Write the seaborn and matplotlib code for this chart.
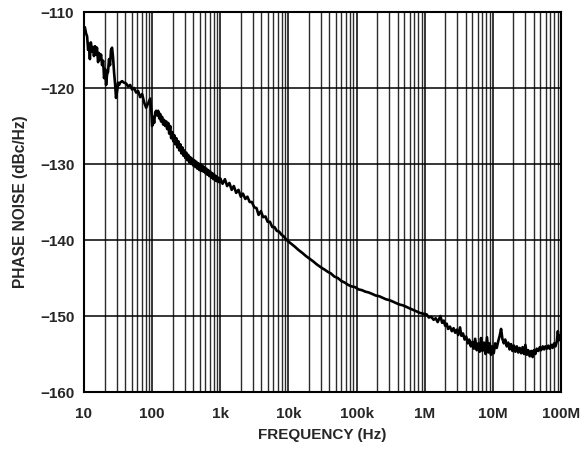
import numpy as np
import pandas as pd
import matplotlib
matplotlib.use("Agg")
import matplotlib.pyplot as plt
import matplotlib.ticker as mticker
import seaborn as sns

# ---- data (frequency in Hz, phase noise in dBc/Hz) ----
freq_low = [10, 10.3, 10.7, 11.1, 11.5, 11.8, 12.2, 12.6, 13.1, 13.6, 14.0, 14.5, 15.0, 15.5, 16.1, 16.6,
            17.2, 17.8, 18.4, 19.1, 19.7, 20.4, 21.1, 21.8, 22.5, 23.3, 24.1, 24.9, 25.8, 26.7, 27.6, 28.6,
            29.5, 30.6, 31.6, 32.7, 33.8, 36.2, 38.7, 41.5, 44.3, 47.5, 50.8, 54.4, 58.2, 62.3, 66.6, 71.3,
            76.3, 81.7, 87.4, 93.5, 97]
pn_low = [-112.1, -112.0, -112.8, -113.2, -115.0, -114.2, -116.2, -114.0, -115.2, -114.6, -115.8, -114.5, -115.6, -114.7, -116.6, -115.4,
          -116.2, -115.6, -117.0, -116.4, -118.7, -117.5, -119.6, -118.2, -117.9, -116.2, -117.0, -115.0, -114.7, -116.0, -117.9, -119.5,
          -121.3, -120.4, -119.3, -119.6, -119.3, -119.1, -119.3, -119.4, -119.8, -119.6, -120.2, -120.0, -120.6, -120.4, -121.2, -120.8,
          -121.9, -122.6, -122.0, -121.4, -122.8]

freq_mid = [100, 104, 107, 111, 114.5, 118, 122.6, 127, 131, 135, 140, 145, 150, 155, 161, 166, 172, 178, 184, 190,
            197, 204, 211, 218, 226, 234, 242, 250, 259, 268, 277, 287, 296, 306, 317, 328, 339, 351, 363, 375,
            388, 402, 415, 430, 445, 460, 476, 492, 509, 527, 545, 564, 583, 603, 624, 645, 667, 690, 714, 739,
            764, 790, 818, 846, 875, 905, 936, 968]
pn_mid = [-125.0, -123.8, -124.6, -123.2, -123.0, -123.6, -123.0, -124.0, -123.4, -124.4, -123.8, -124.8, -124.2, -125.0, -124.4, -125.4, -124.6, -126.0, -125.0, -126.6,
          -125.8, -127.0, -126.2, -127.4, -126.6, -127.8, -127.0, -128.2, -127.4, -128.6, -127.8, -128.9, -128.2, -129.2, -128.5, -129.5, -128.8, -129.8, -129.1, -130.0,
          -129.3, -130.2, -129.5, -130.4, -129.7, -130.6, -129.9, -130.8, -130.0, -130.9, -130.2, -131.0, -130.4, -131.2, -130.6, -131.4, -130.8, -131.6, -131.0, -131.8,
          -131.2, -132.0, -131.4, -132.2, -131.6, -132.3, -131.8, -132.4]

freq_dec3 = [1000, 1080, 1170, 1260, 1360, 1470, 1580, 1710, 1850, 2000, 2150, 2330, 2500, 2700, 2900, 3150,
             3400, 3650, 3950, 4250, 4600, 4950, 5350, 5800, 6250, 6750, 7300, 7900, 8500, 9200]
pn_dec3 = [-131.9, -132.6, -132.0, -132.9, -132.5, -133.4, -132.9, -133.8, -133.4, -134.3, -133.9, -134.6, -134.3, -135.0, -135.0, -135.7,
           -135.8, -136.7, -136.2, -137.0, -136.9, -137.6, -137.6, -138.3, -138.3, -138.8, -138.9, -139.3, -139.5, -139.9]

freq_smooth = [1e4, 1.1e4, 1.25e4, 1.4e4, 1.6e4, 1.8e4, 2e4, 2.3e4, 2.6e4, 3e4, 3.4e4, 3.8e4, 4.2e4, 4.7e4, 5.3e4, 6e4,
               6.7e4, 7.5e4, 8.4e4, 9.5e4, 1.07e5, 1.2e5, 1.35e5, 1.5e5, 1.7e5, 1.9e5, 2.15e5, 2.4e5, 2.7e5, 3e5, 3.4e5,
               3.8e5, 4.3e5, 4.8e5, 5.4e5, 6e5, 6.8e5, 7.6e5, 8.5e5, 9.5e5, 1.07e6, 1.15e6, 1.25e6, 1.35e6, 1.45e6,
               1.55e6, 1.62e6]
pn_smooth = [-140.2, -140.5, -140.9, -141.3, -141.7, -142.1, -142.4, -142.8, -143.2, -143.6, -143.9, -144.2, -144.4, -144.8, -145.0, -145.4,
             -145.6, -145.9, -146.1, -146.2, -146.5, -146.6, -146.8, -146.9, -147.1, -147.3, -147.4, -147.6, -147.8, -147.9, -148.1,
             -148.3, -148.5, -148.6, -148.8, -149.0, -149.2, -149.4, -149.6, -149.7, -149.8, -150.2, -150.1, -150.5, -150.3,
             -150.8, -150.4]

freq_high = [1.7e6, 1.8e6, 1.9e6, 2.0e6, 2.1e6, 2.2e6, 2.35e6, 2.5e6, 2.65e6, 2.8e6, 2.95e6, 3.1e6, 3.3e6, 3.45e6, 3.65e6,
             3.85e6, 4.05e6, 4.3e6, 4.5e6, 4.75e6, 5.0e6, 5.25e6, 5.5e6, 5.8e6, 6.1e6, 6.4e6, 6.7e6, 7.0e6, 7.4e6, 7.8e6,
             8.2e6, 8.6e6, 9.0e6, 9.4e6, 9.8e6, 10.3e6, 10.8e6, 11.4e6, 12.0e6, 12.6e6, 13.2e6, 13.8e6, 14.5e6, 15.2e6,
             16e6, 16.8e6, 17.6e6, 18.5e6, 19.4e6, 20.4e6, 21.4e6, 22.5e6, 23.6e6, 24.8e6, 26e6, 27.3e6, 28.7e6, 30e6,
             31.5e6, 33e6, 34.7e6, 36.5e6, 38.3e6, 40e6, 42e6, 44e6, 46.5e6, 49e6, 51e6, 54e6, 56.5e6, 59e6, 62e6,
             65e6, 68e6, 72e6, 75e6, 79e6, 83e6, 87e6, 90e6, 93e6, 96e6, 100e6]
pn_high = [-150.0, -150.9, -150.6, -151.3, -151.0, -151.7, -151.4, -152.0, -151.6, -152.2, -151.8, -152.5, -151.5, -152.6, -152.3,
           -153.1, -152.7, -153.6, -153.1, -154.0, -153.4, -154.3, -153.0, -154.5, -153.6, -154.7, -152.9, -154.6, -153.5, -155.0,
           -152.8, -154.8, -153.6, -155.1, -154.0, -154.9, -153.6, -154.2, -153.3, -152.6, -151.7, -153.0, -153.6, -153.1,
           -154.0, -153.5, -154.4, -153.7, -154.6, -153.9, -154.7, -154.0, -154.8, -154.2, -154.9, -154.1, -155.0, -153.8,
           -155.1, -154.5, -155.3, -154.6, -155.4, -154.5, -155.0, -154.3, -154.6, -154.1, -154.5, -154.0, -154.4, -154.0, -154.3,
           -153.9, -154.3, -153.8, -154.2, -153.6, -154.0, -153.3, -152.0, -153.2, -152.6, -153.0]

x_ticks = [10, 100, 1e3, 1e4, 1e5, 1e6, 1e7, 1e8]
x_tick_labels = ["10", "100", "1k", "10k", "100k", "1M", "10M", "100M"]
y_ticks = [-160, -150, -140, -130, -120, -110]
y_tick_labels = ["\u2212160", "\u2212150", "\u2212140", "\u2212130", "\u2212120", "\u2212110"]

sns.set_theme(style="white")
plt.rcParams["font.family"] = ["Liberation Sans", "DejaVu Sans"]
plt.rcParams["font.weight"] = "bold"

df = pd.DataFrame({
    "freq": freq_low + freq_mid + freq_dec3 + freq_smooth + freq_high,
    "pn": pn_low + pn_mid + pn_dec3 + pn_smooth + pn_high,
})

fig = plt.figure(figsize=(5.88, 4.5), dpi=100)
ax = fig.add_axes([84 / 588, 1 - 392 / 450, (561 - 84) / 588, (392 - 12) / 450])

sns.lineplot(data=df, x="freq", y="pn", ax=ax, color="black", linewidth=1.9,
             estimator=None, sort=False, zorder=3)

ax.set_xscale("log")
ax.set_xlim(10, 1e8)
ax.set_ylim(-160, -110)
ax.set_xticks(x_ticks)
ax.set_xticklabels(x_tick_labels)
ax.xaxis.set_minor_locator(mticker.LogLocator(base=10, subs=np.arange(2, 10), numticks=100))
ax.xaxis.set_minor_formatter(mticker.NullFormatter())
ax.set_yticks(y_ticks)
ax.set_yticklabels(y_tick_labels)

ax.grid(which="major", axis="both", color="black", linewidth=1.1)
ax.grid(which="minor", axis="x", color="#2b2b2b", linewidth=1.0)
ax.set_axisbelow(True)
for s in ax.spines.values():
    s.set_color("black")
    s.set_linewidth(1.5)

ax.tick_params(axis="both", which="both", length=0)
ax.tick_params(axis="x", pad=11, labelsize=11)
ax.tick_params(axis="y", pad=7, labelsize=11)
for lab in ax.get_xticklabels() + ax.get_yticklabels():
    lab.set_fontweight("bold")

ax.set_xlabel("FREQUENCY (Hz)", fontsize=11, fontweight="bold")
ax.set_ylabel("PHASE NOISE (dBc/Hz)", fontsize=11.2, fontweight="bold")
ax.xaxis.set_label_coords(0.5, (392 - 435) / 380)
ax.xaxis.label.set_va("center")
ax.yaxis.set_label_coords((21 - 84) / 477, 0.5)
ax.yaxis.label.set_va("center")

fig.savefig("out.png", dpi=100)
